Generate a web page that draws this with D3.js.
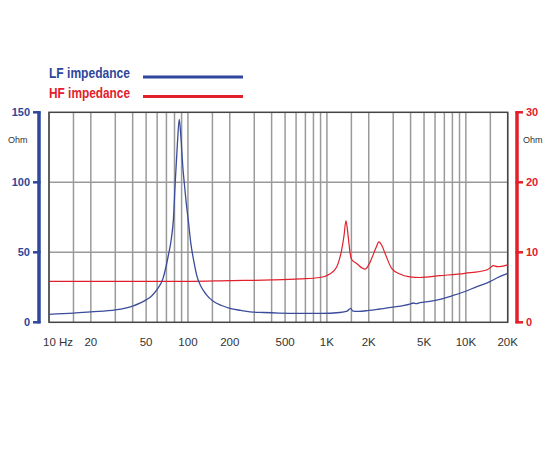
<!DOCTYPE html>
<html>
<head>
<meta charset="utf-8">
<script src="https://cdn.jsdelivr.net/npm/d3@7"></script>
<style>
  body { margin: 0; background: #fff; }
  text { font-family: "Liberation Sans", Arial, sans-serif; }
</style>
</head>
<body>
<div id="chart"></div>
<script>
// LF impedance (left axis, Ohm)
const lfFreq = [10, 15, 20, 30, 40, 50, 55, 60, 66, 72, 76, 78.5, 81, 84, 86.6, 89, 92, 94, 97, 100.5, 105, 110, 116, 125, 135, 152, 175, 200, 240, 280, 350, 450, 640, 900, 1240, 1400, 1480, 1540, 1700, 2000, 2400, 3000, 3950, 4200, 4400, 4670, 5500, 6500, 8000, 9840, 12000, 14900, 17000, 20000];
const lfOhm  = [5.7, 6.5, 7.4, 8.8, 11.6, 16, 19, 23.5, 31, 47, 60, 73, 100, 128, 145, 132, 110, 100, 86, 73, 56, 44, 33, 25, 20, 15, 12, 10, 8.5, 7.5, 7, 6.6, 6.4, 6.4, 7, 8, 10, 8, 7.8, 8.5, 9.5, 10.8, 13, 13.8, 13.4, 14, 15, 16.4, 19, 22, 25.5, 29, 32, 35];

// HF impedance (right axis, Ohm)
const hfFreq = [10, 100, 200, 400, 640, 890, 1050, 1175, 1230, 1276, 1330, 1370, 1400, 1440, 1470, 1505, 1636, 1877, 2000, 2097, 2250, 2366, 2480, 2615, 2923, 3352, 3955, 4670, 6500, 9840, 14100, 15000, 15740, 16900, 18000, 20000];
const hfOhm  = [5.85, 5.85, 5.95, 6.05, 6.2, 6.4, 6.9, 7.9, 9, 10.3, 12.5, 14.5, 13.5, 11.3, 9.8, 9.0, 8.4, 7.6, 8.2, 9.1, 10.6, 11.5, 11, 9.9, 7.7, 6.9, 6.5, 6.4, 6.66, 7.0, 7.47, 7.8, 8.1, 7.95, 8.0, 8.2];

// grid and tick labels
const gridFreqs = [10, 15, 20, 30, 40, 50, 60, 70, 80, 90, 100, 150, 200, 300, 400, 500, 600, 700, 800, 900,
                   1000, 1500, 2000, 3000, 4000, 5000, 6000, 7000, 8000, 9000, 10000, 15000, 20000];
const xTicks = [10, 20, 50, 100, 200, 500, 1000, 2000, 5000, 10000, 20000];
const xLabels = ["10 Hz", "20", "50", "100", "200", "500", "1K", "2K", "5K", "10K", "20K"];
const leftTicks = [0, 50, 100, 150];
const rightTicks = [0, 10, 20, 30];

const blue = "#3b4c9b", red = "#e2202b";

const svg = d3.select("#chart").append("svg")
    .attr("width", 550)
    .attr("height", 450);

// scales
const x = d3.scaleLog().domain([10, 20000]).range([49, 507.7]);
const yL = d3.scaleLinear().domain([0, 150]).range([322.3, 112.3]);
const yR = d3.scaleLinear().domain([0, 30]).range([322.3, 112.3]);

// vertical grid
svg.append("g")
    .selectAll("line")
    .data(gridFreqs)
    .join("line")
    .attr("x1", d => x(d)).attr("x2", d => x(d))
    .attr("y1", yL(150)).attr("y2", yL(0))
    .attr("stroke", "#9a9a9a")
    .attr("stroke-width", 1.5);

// horizontal grid
svg.append("g")
    .selectAll("line")
    .data([50, 100])
    .join("line")
    .attr("x1", x(10)).attr("x2", x(20000))
    .attr("y1", d => yL(d)).attr("y2", d => yL(d))
    .attr("stroke", "#9a9a9a")
    .attr("stroke-width", 1.5);

// plot frame
svg.append("rect")
    .attr("x", x(10)).attr("y", yL(150))
    .attr("width", x(20000) - x(10))
    .attr("height", yL(0) - yL(150))
    .attr("fill", "none")
    .attr("stroke", "#444")
    .attr("stroke-width", 1.5);

// x tick labels
svg.append("g")
    .selectAll("text")
    .data(xTicks)
    .join("text")
    .attr("x", (d, i) => i === 0 ? x(d) - 6 : x(d))
    .attr("y", 346)
    .attr("text-anchor", (d, i) => i === 0 ? "start" : "middle")
    .attr("font-size", 11.5)
    .attr("fill", "#333")
    .text((d, i) => xLabels[i]);

// left axis (blue bar)
const leftAxis = svg.append("g");
leftAxis.append("line")
    .attr("x1", 39).attr("x2", 39)
    .attr("y1", yL(150) - 1).attr("y2", yL(0) + 1)
    .attr("stroke", "#2e479c").attr("stroke-width", 3.5);
leftAxis.selectAll(".tk")
    .data(leftTicks)
    .join("line")
    .attr("x1", 33).attr("x2", 40.5)
    .attr("y1", d => yL(d)).attr("y2", d => yL(d))
    .attr("stroke", "#2e479c").attr("stroke-width", 2.5);
leftAxis.selectAll("text")
    .data(leftTicks)
    .join("text")
    .attr("x", 30)
    .attr("y", d => yL(d) + 4)
    .attr("text-anchor", "end")
    .attr("font-size", 11)
    .attr("font-weight", "bold")
    .attr("fill", "#2e479c")
    .text(d => d);
svg.append("text")
    .attr("x", 8).attr("y", 143)
    .attr("font-size", 9)
    .attr("fill", "#333")
    .text("Ohm");

// right axis (red bar)
const rightAxis = svg.append("g");
rightAxis.append("line")
    .attr("x1", 517).attr("x2", 517)
    .attr("y1", yR(30) - 1).attr("y2", yR(0) + 1)
    .attr("stroke", red).attr("stroke-width", 3.5);
rightAxis.selectAll(".tk")
    .data(rightTicks)
    .join("line")
    .attr("x1", 515.5).attr("x2", 523)
    .attr("y1", d => yR(d)).attr("y2", d => yR(d))
    .attr("stroke", red).attr("stroke-width", 2.5);
rightAxis.selectAll("text")
    .data(rightTicks)
    .join("text")
    .attr("x", 526)
    .attr("y", d => yR(d) + 4)
    .attr("font-size", 11)
    .attr("font-weight", "bold")
    .attr("fill", red)
    .text(d => d);
svg.append("text")
    .attr("x", 523).attr("y", 143)
    .attr("font-size", 9)
    .attr("fill", "#333")
    .text("Ohm");

// curves
const lfLine = d3.line()
    .x((d, i) => x(lfFreq[i]))
    .y(d => yL(d))
    .curve(d3.curveMonotoneX);
const hfLine = d3.line()
    .x((d, i) => x(hfFreq[i]))
    .y(d => yR(d))
    .curve(d3.curveMonotoneX);

svg.append("path")
    .attr("d", hfLine(hfOhm))
    .attr("fill", "none")
    .attr("stroke", red)
    .attr("stroke-width", 1.2);

svg.append("path")
    .attr("d", lfLine(lfOhm))
    .attr("fill", "none")
    .attr("stroke", blue)
    .attr("stroke-width", 1.3);

// legend
const legend = [
    { name: "LF impedance", color: "#2e479c", y: 78 },
    { name: "HF impedance", color: red, y: 97.5 }
];
svg.selectAll(".legtext")
    .data(legend)
    .join("text")
    .attr("x", 49)
    .attr("y", d => d.y)
    .attr("font-size", 15)
    .attr("font-weight", "bold")
    .attr("textLength", 81)
    .attr("lengthAdjust", "spacingAndGlyphs")
    .attr("fill", d => d.color)
    .text(d => d.name);
svg.selectAll(".legline")
    .data(legend)
    .join("line")
    .attr("x1", 143).attr("x2", 243)
    .attr("y1", d => d.y - 1).attr("y2", d => d.y - 1)
    .attr("stroke", d => d.color)
    .attr("stroke-width", 3);
</script>
</body>
</html>
